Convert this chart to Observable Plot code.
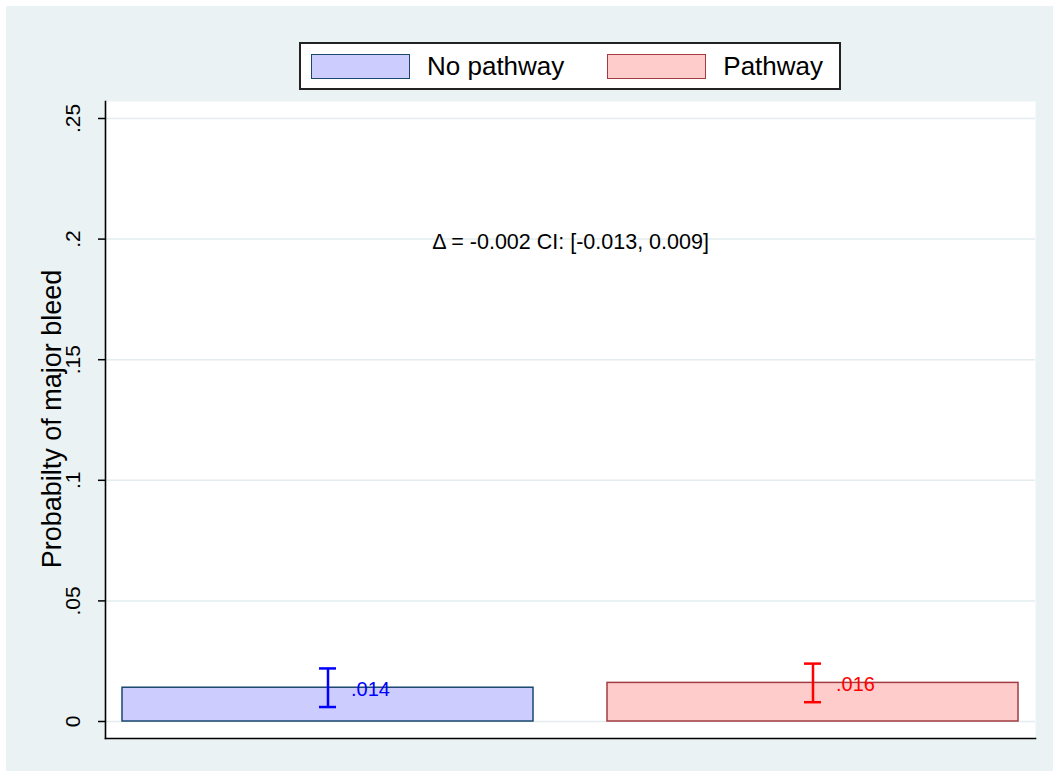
<!DOCTYPE html>
<html>
<head>
<meta charset="utf-8">
<script src="https://cdn.jsdelivr.net/npm/d3@7"></script>
<script src="https://cdn.jsdelivr.net/npm/@observablehq/plot@0.6"></script>
<style>
  body { margin: 0; background: #fff; font-family: "Liberation Sans", Arial, sans-serif; }
  #chart { position: absolute; left: 6px; top: 6px; width: 1047px; height: 765px; background: #eaf2f3; }
  .legend { box-sizing: border-box; margin: 36px 0 0 293px; width: 542px; height: 48px;
    background: #fff; border: 2px solid #222; display: flex; align-items: center; padding-left: 10px; }
  .legend .key { width: 99px; height: 25px; box-sizing: border-box; border: 1.5px solid; }
  .legend .lab { font-size: 26px; margin-left: 17px; margin-right: 43px; color: #000; }
  .legend .lab:last-child { margin-right: 0; }
  #chart svg { display: block; }
</style>
</head>
<body>
<div id="chart"></div>
<script>
console.log("bleed probability chart loaded");

// groups and their estimates
const groups = ["No pathway", "Pathway"];
const probs = [0.014, 0.016];
const ciLow = [0.006, 0.008];
const ciHigh = [0.022, 0.024];

const yTicks = [0, 0.05, 0.1, 0.15, 0.2, 0.25];
const yLabel = "Probabilty of major bleed";
const note = [{y: 0.2, text: "Δ = -0.002 CI: [-0.013, 0.009]"}];

// styling per group
const fills = {"No pathway": "#ccccff", "Pathway": "#ffcccc"};
const strokes = {"No pathway": "#1a476f", "Pathway": "#a23c42"};
const ciColors = {"No pathway": "#0000ff", "Pathway": "#ff0000"};

const rows = groups.map((g, i) => ({group: g, p: probs[i], lo: ciLow[i], hi: ciHigh[i]}));

const stataFmt = d => d === 0 ? "0" : d3.format("~f")(d).replace(/^0/, "");
const valFmt = d => d3.format(".3f")(d).replace(/^0/, "");

const chart = document.querySelector("#chart");

// legend above the plot
const legend = document.createElement("div");
legend.className = "legend";
groups.forEach(g => {
  const k = document.createElement("span");
  k.className = "key";
  k.style.background = fills[g];
  k.style.borderColor = strokes[g];
  const l = document.createElement("span");
  l.className = "lab";
  l.textContent = g;
  legend.append(k, l);
});
chart.append(legend);

chart.append(
  Plot.plot({
    width: 1047,
    height: 681,
    marginTop: 11,
    marginBottom: 33,
    marginLeft: 99,
    marginRight: 18,
    style: {fontFamily: "'Liberation Sans', Arial, sans-serif", background: "transparent", color: "#000"},
    x: {type: "band", domain: groups, paddingInner: 0.153, paddingOuter: 0.035, axis: null},
    y: {domain: [0, 0.25], insetTop: 17, insetBottom: 17, axis: null},
    marks: [
      Plot.frame({fill: "white", stroke: "none"}),
      Plot.gridY(yTicks, {stroke: "#e3ecee", strokeOpacity: 1, strokeWidth: 1.5}),
      Plot.frame({anchor: "left", stroke: "#000", strokeWidth: 1.6}),
      Plot.frame({anchor: "bottom", stroke: "#000", strokeWidth: 1.6}),
      Plot.axisY(yTicks, {tickSize: 7, tickRotate: -90, tickFormat: stataFmt, fontSize: 21,
        tickPadding: 19, label: null, strokeWidth: 1.5}),
      Plot.barY(rows, {x: "group", y: "p", fill: d => fills[d.group], stroke: d => strokes[d.group], strokeWidth: 1.5}),
      Plot.ruleX(rows, {x: "group", y1: "lo", y2: "hi", stroke: d => ciColors[d.group], strokeWidth: 2.5}),
      Plot.tickY(rows, {x: "group", y: "lo", stroke: d => ciColors[d.group], strokeWidth: 2.5, insetLeft: 197, insetRight: 197}),
      Plot.tickY(rows, {x: "group", y: "hi", stroke: d => ciColors[d.group], strokeWidth: 2.5, insetLeft: 197, insetRight: 197}),
      Plot.text(rows, {x: "group", y: "p", text: d => valFmt(d.p), fill: d => ciColors[d.group],
        textAnchor: "start", dx: 23, dy: 2, fontSize: 20}),
      Plot.text(note, {y: "y", text: "text", fontSize: 21.5, dy: 3, fill: "#000"}),
      Plot.text([yLabel], {frameAnchor: "left", text: d => d, textAnchor: "middle", rotate: -90,
        dx: -53, dy: -1, fontSize: 27, fill: "#000"})
    ]
  })
);
</script>
</body>
</html>
